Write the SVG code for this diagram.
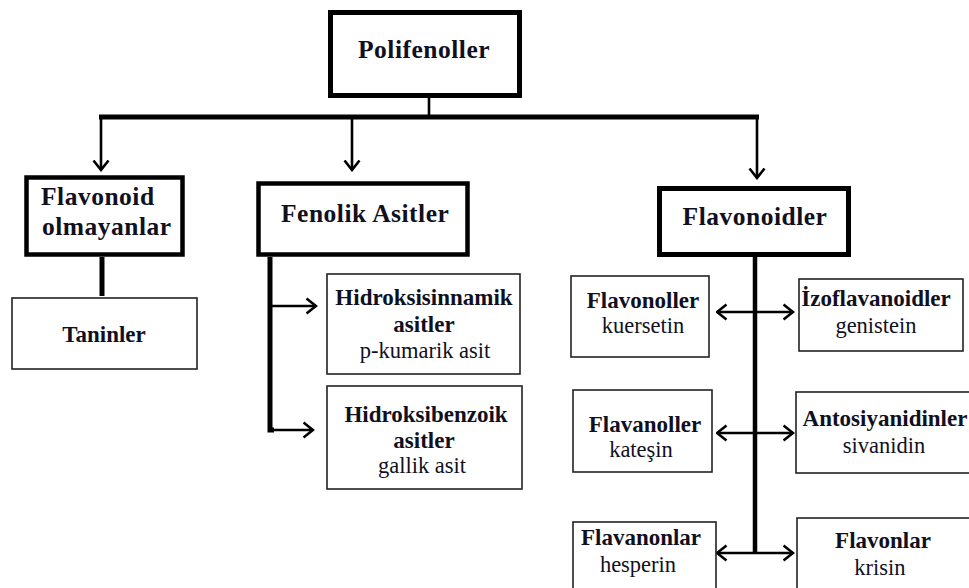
<svg xmlns="http://www.w3.org/2000/svg" width="969" height="588" viewBox="0 0 969 588">
<style>
.bg{fill:#ffffff}
.thick{fill:#ffffff;stroke:#000000;stroke-width:5}
.thin{fill:#ffffff;stroke:#222222;stroke-width:1.6}
.h{font-family:"Liberation Serif","Times New Roman",serif;font-weight:bold;font-size:25.5px;letter-spacing:0.5px;fill:#10101e}
.b{font-family:"Liberation Serif","Times New Roman",serif;font-weight:bold;font-size:23px;fill:#10101e}
.r{font-family:"Liberation Serif","Times New Roman",serif;font-size:22.5px;fill:#10101e}
.c{text-anchor:middle}
.bar{stroke:#000000;stroke-width:5;fill:none}
.ln{stroke:#000000;stroke-width:2.6;fill:none}
</style>
<defs>
<marker id="ah" markerUnits="userSpaceOnUse" viewBox="0 0 12 18" markerWidth="12" markerHeight="18" refX="10.5" refY="9" orient="auto-start-reverse">
<path d="M1,1.5 L10.5,9 L1,16.5" fill="none" stroke="#000000" stroke-width="2.6" stroke-linejoin="miter"/>
</marker>
</defs>
<rect class="bg" x="0" y="0" width="969" height="588"/>

<g id="connectors">
<line class="ln" x1="429" y1="98" x2="429" y2="116"/>
<line class="bar" x1="99" y1="117" x2="759" y2="117"/>
<line class="ln" x1="101" y1="117" x2="101" y2="170" marker-end="url(#ah)"/>
<line class="ln" x1="352" y1="117" x2="352" y2="170" marker-end="url(#ah)"/>
<line class="ln" x1="757" y1="117" x2="757" y2="178" marker-end="url(#ah)"/>
<line class="bar" x1="102" y1="257" x2="102" y2="296"/>
<polyline class="bar" points="270,257 270,430 274,430"/>
<line class="ln" x1="270" y1="306" x2="316" y2="306" marker-end="url(#ah)"/>
<line class="ln" x1="272" y1="430" x2="313" y2="430" marker-end="url(#ah)"/>
<line class="bar" x1="755" y1="257" x2="755" y2="553" style="stroke-width:4.5"/>
<line class="ln" x1="717" y1="312" x2="793" y2="312" marker-start="url(#ah)" marker-end="url(#ah)"/>
<line class="ln" x1="717" y1="433" x2="793" y2="433" marker-start="url(#ah)" marker-end="url(#ah)"/>
<line class="ln" x1="717" y1="553" x2="793" y2="553" marker-start="url(#ah)" marker-end="url(#ah)"/>
</g>

<g id="polifenoller">
<rect class="thick" x="330.5" y="12.5" width="189" height="83"/>
<text class="h c" x="424" y="58">Polifenoller</text>
</g>

<g id="flavonoid-olmayanlar">
<rect class="thick" x="26.5" y="177.5" width="156" height="77" style="stroke-width:4.5"/>
<text class="h" x="41" y="205">Flavonoid</text>
<text class="h" x="42" y="235">olmayanlar</text>
</g>

<g id="fenolik-asitler">
<rect class="thick" x="258.5" y="183.5" width="209" height="71" style="stroke-width:4.5"/>
<text class="h" x="281" y="222">Fenolik Asitler</text>
</g>

<g id="flavonoidler">
<rect class="thick" x="659.5" y="188.5" width="189" height="66"/>
<text class="h c" x="755" y="225">Flavonoidler</text>
</g>

<g id="taninler">
<rect class="thin" x="12" y="298" width="185" height="71"/>
<text class="b c" x="104" y="342">Taninler</text>
</g>

<g id="hidroksisinnamik">
<rect class="thin" x="327" y="274" width="193" height="100"/>
<text class="b c" x="424" y="305">Hidroksisinnamik</text>
<text class="b c" x="424" y="332">asitler</text>
<text class="r c" x="425" y="358">p-kumarik asit</text>
</g>

<g id="hidroksibenzoik">
<rect class="thin" x="327" y="386" width="195" height="103"/>
<text class="b c" x="426" y="422">Hidroksibenzoik</text>
<text class="b c" x="424" y="448">asitler</text>
<text class="r c" x="422" y="473">gallik asit</text>
</g>

<g id="flavonoller">
<rect class="thin" x="571" y="276" width="138" height="81"/>
<text class="b c" x="643" y="308">Flavonoller</text>
<text class="r c" x="643" y="333">kuersetin</text>
</g>

<g id="izoflavanoidler">
<rect class="thin" x="799" y="279" width="164" height="72"/>
<text class="b c" x="876" y="306">İzoflavanoidler</text>
<text class="r c" x="876" y="333">genistein</text>
</g>

<g id="flavanoller">
<rect class="thin" x="573" y="390" width="139" height="82"/>
<text class="b c" x="645" y="432">Flavanoller</text>
<text class="r c" x="641" y="457">kateşin</text>
</g>

<g id="antosiyanidinler">
<rect class="thin" x="796" y="392" width="180" height="81"/>
<text class="b c" x="885" y="426">Antosiyanidinler</text>
<text class="r c" x="884" y="453">sivanidin</text>
</g>

<g id="flavanonlar">
<rect class="thin" x="573" y="522" width="143" height="72"/>
<text class="b c" x="641" y="545">Flavanonlar</text>
<text class="r c" x="638" y="572">hesperin</text>
</g>

<g id="flavonlar">
<rect class="thin" x="797" y="518" width="180" height="76"/>
<text class="b c" x="883" y="548">Flavonlar</text>
<text class="r c" x="880" y="575">krisin</text>
</g>
</svg>
